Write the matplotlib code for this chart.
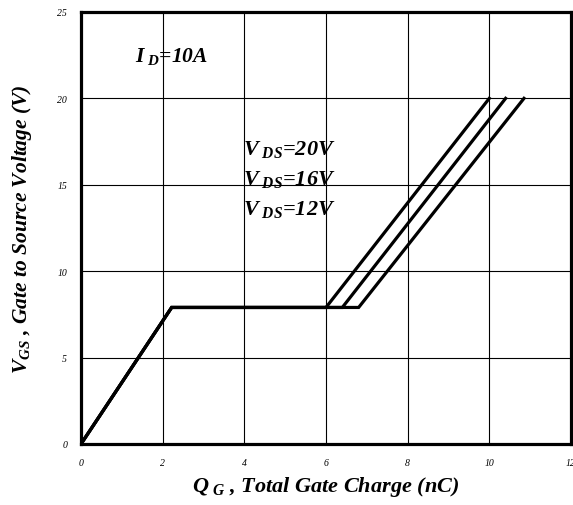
import matplotlib
matplotlib.use("Agg")
import matplotlib.pyplot as plt

# gate charge curves, one per drain-source voltage
vds_labels = ["20V", "16V", "12V"]
qg_points = [
    [0, 2.22, 6.0, 10.0],
    [0, 2.22, 6.4, 10.4],
    [0, 2.22, 6.8, 10.85],
]
vgs_points = [0, 7.9, 7.9, 20.0]

x_ticks = [0, 2, 4, 6, 8, 10, 12]
y_ticks = [0, 5, 10, 15, 20, 25]

plt.rcParams["font.family"] = ["Liberation Serif", "DejaVu Serif"]
plt.rcParams["mathtext.fontset"] = "custom"
plt.rcParams["mathtext.rm"] = "Liberation Serif:italic:bold"
plt.rcParams["mathtext.it"] = "Liberation Serif:italic:bold"
plt.rcParams["mathtext.bf"] = "Liberation Serif:italic:bold"

fig = plt.figure(figsize=(5.73, 5.06), dpi=100)
ax = fig.add_axes([0.1414, 0.1206, 0.855, 0.8538])

for xs in qg_points:
    ax.plot(xs, vgs_points, color="black", lw=2.3, solid_joinstyle="miter", zorder=3)

ax.set_xlim(0, 12)
ax.set_ylim(0, 25)
ax.set_xticks(x_ticks)
ax.set_yticks(y_ticks)
ax.set_xticklabels([str(t) for t in x_ticks], fontstyle="italic", fontsize=7)
ax.set_yticklabels([str(t) for t in y_ticks], fontstyle="italic", fontsize=7)
ax.tick_params(length=0, pad=10)
ax.grid(True, color="black", lw=0.8)

for s in ax.spines.values():
    s.set_linewidth(2.3)

bold_it = dict(fontweight="bold", fontstyle="italic")
ax.text(1.32, 22.15, r"$I_{\ D}$=10A", fontsize=15.5, va="baseline", **bold_it)
for i, lab in enumerate(vds_labels):
    ax.text(3.96, 16.76 - 1.73 * i, r"$V_{\ DS}$=" + lab, fontsize=16, va="baseline", **bold_it)

ax.set_xlabel(r"$Q_{\ G}$ , Total Gate Charge (nC)", fontsize=16, labelpad=5, **bold_it)
ax.set_ylabel(r"$V_{GS}$ , Gate to Source Voltage (V)", fontsize=15.5, labelpad=17, **bold_it)

fig.savefig("out.png", dpi=100)
